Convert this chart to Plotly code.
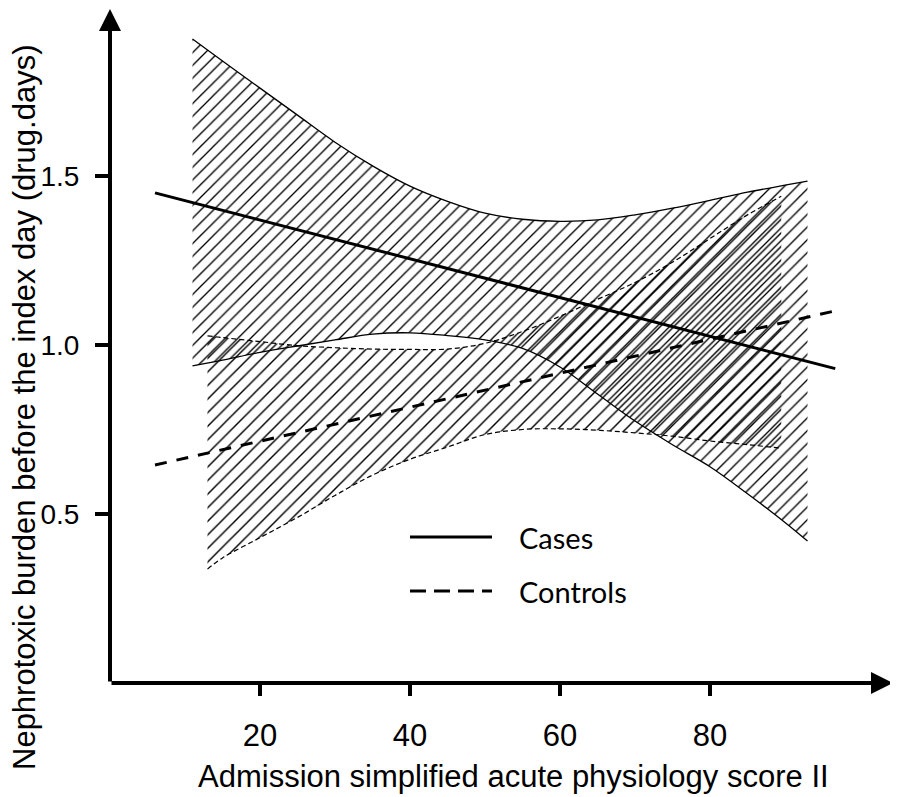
import plotly.graph_objects as go

# ---- data ----
cases_line_x = [6, 96.7]
cases_line_y = [1.45, 0.93]

controls_line_x = [6, 96.5]
controls_line_y = [0.645, 1.10]

cases_band_x = [11, 15, 20, 25, 30, 35, 40, 45, 50, 55, 60, 65, 70, 75, 80, 85, 90, 93]
cases_upper = [1.905, 1.84, 1.76, 1.68, 1.60, 1.53, 1.47, 1.425, 1.39, 1.372, 1.366,
               1.37, 1.385, 1.405, 1.428, 1.452, 1.473, 1.485]
cases_lower = [0.938, 0.955, 0.978, 0.997, 1.015, 1.032, 1.036, 1.028, 1.015, 0.99,
               0.935, 0.855, 0.775, 0.705, 0.64, 0.56, 0.475, 0.42]

controls_band_x = [13, 15, 20, 25, 30, 35, 40, 45, 50, 55, 60, 65, 70, 75, 80, 85, 89.5]
controls_upper = [1.027, 1.022, 1.010, 0.998, 0.992, 0.988, 0.987, 0.988, 1.005, 1.04,
                  1.085, 1.135, 1.185, 1.245, 1.315, 1.385, 1.44]
controls_lower = [0.337, 0.37, 0.43, 0.49, 0.555, 0.615, 0.662, 0.698, 0.735, 0.75,
                  0.752, 0.748, 0.740, 0.73, 0.716, 0.705, 0.695]

x_ticks = [20, 40, 60, 80]
y_ticks = [0.5, 1.0, 1.5]
y_tick_text = ["0.5", "1.0", "1.5"]

series_names = ["Cases", "Controls"]
x_title = "Admission simplified acute physiology score II"
y_title = "Nephrotoxic burden before the index day (drug.days)"

X_MAX = 104.4
Y_MAX = 1.997

fig = go.Figure()

# Cases confidence band (solid thin edges, hatched)
fig.add_trace(go.Scatter(x=cases_band_x, y=cases_upper, mode="lines",
                         line=dict(color="black", width=1.3, shape="spline"),
                         showlegend=False, hoverinfo="skip"))
fig.add_trace(go.Scatter(x=cases_band_x, y=cases_lower, mode="lines",
                         line=dict(color="black", width=1.3, shape="spline"),
                         showlegend=False,
                         fill="tonexty", fillcolor="rgba(0,0,0,0)",
                         fillpattern=dict(shape="/", fgcolor="black",
                                          bgcolor="rgba(0,0,0,0)", size=9,
                                          solidity=0.15, fillmode="replace"),
                         hoverinfo="skip"))

# Controls confidence band (dashed thin edges, hatched)
fig.add_trace(go.Scatter(x=controls_band_x, y=controls_upper, mode="lines",
                         line=dict(color="black", width=1.2, dash="5px,3px", shape="spline"),
                         showlegend=False, hoverinfo="skip"))
fig.add_trace(go.Scatter(x=controls_band_x, y=controls_lower, mode="lines",
                         line=dict(color="black", width=1.2, dash="5px,3px", shape="spline"),
                         showlegend=False,
                         fill="tonexty", fillcolor="rgba(0,0,0,0)",
                         fillpattern=dict(shape="/", fgcolor="black",
                                          bgcolor="rgba(0,0,0,0)", size=9.6,
                                          solidity=0.15, fillmode="replace"),
                         hoverinfo="skip"))

# Main lines
fig.add_trace(go.Scatter(x=cases_line_x, y=cases_line_y, mode="lines",
                         name=series_names[0],
                         line=dict(color="black", width=3), showlegend=False))
fig.add_trace(go.Scatter(x=controls_line_x, y=controls_line_y, mode="lines",
                         name=series_names[1],
                         line=dict(color="black", width=3, dash="12px,10px"),
                         showlegend=False))

# page body has an 8px margin: figure is offset by (8, 8)
OFF = 8
W, H = 890, 789
L, R, T, B = 102, 5, 0, 114
pw, ph = W - L - R, H - T - B


def px_x(p):
    """reference pixel x -> paper x"""
    return (p - OFF - L) / pw


def px_y(p):
    """reference pixel y -> paper y"""
    return (H - B - (p - OFF)) / ph


shapes = [
    dict(type="line", xref="paper", yref="paper", x0=px_x(410), x1=px_x(492),
         y0=px_y(537), y1=px_y(537), line=dict(color="black", width=3)),
    dict(type="line", xref="paper", yref="paper", x0=px_x(410), x1=px_x(492),
         y0=px_y(591), y1=px_y(591), line=dict(color="black", width=3, dash="16px,8px")),
]

annotations = [
    # axes with arrows
    dict(x=px_x(893), y=0, ax=-(893 - 110), ay=0, xref="paper", yref="paper",
         showarrow=True, arrowhead=2, arrowsize=1.1, arrowwidth=4, arrowcolor="black", text=""),
    dict(x=0, y=px_y(4), ax=0, ay=(683 - 4), xref="paper", yref="paper",
         showarrow=True, arrowhead=2, arrowsize=1.1, arrowwidth=4, arrowcolor="black", text=""),
    # legend texts
    dict(x=px_x(517), y=px_y(537), xref="paper", yref="paper", text=series_names[0],
         showarrow=False, xanchor="left", yanchor="middle",
         font=dict(family="Lato, Carlito, sans-serif", size=29, color="black")),
    dict(x=px_x(517), y=px_y(591), xref="paper", yref="paper", text=series_names[1],
         showarrow=False, xanchor="left", yanchor="middle",
         font=dict(family="Lato, Carlito, sans-serif", size=29, color="black")),
    # y title
    dict(x=px_x(24), y=px_y(407), xref="paper", yref="paper", text=y_title,
         showarrow=False, textangle=-90, xanchor="center", yanchor="middle",
         font=dict(family="Liberation Sans, Arial, sans-serif", size=31, color="black")),
    # x title
    dict(x=px_x(513), y=px_y(776), xref="paper", yref="paper", text=x_title,
         showarrow=False, xanchor="center", yanchor="middle",
         font=dict(family="Liberation Sans, Arial, sans-serif", size=31, color="black")),
]

fig.update_layout(
    width=W, height=H,
    margin=dict(l=L, r=R, t=T, b=B, pad=0),
    paper_bgcolor="white", plot_bgcolor="white",
    showlegend=False,
    shapes=shapes,
    annotations=annotations,
    xaxis=dict(range=[0, X_MAX], showgrid=False, zeroline=False, showline=False,
               tickmode="array", tickvals=x_ticks, ticks="outside", ticklen=12,
               tickwidth=4, tickcolor="black", ticklabelstandoff=13,
               tickfont=dict(family="Liberation Sans, Arial, sans-serif", size=31, color="black")),
    yaxis=dict(range=[0, Y_MAX], showgrid=False, zeroline=False, showline=False,
               tickmode="array", tickvals=y_ticks, ticktext=y_tick_text,
               ticks="outside", ticklen=14, tickwidth=4, tickcolor="black",
               ticklabelstandoff=10,
               tickfont=dict(family="Liberation Sans, Arial, sans-serif", size=28, color="black")),
)

fig.write_html("out.html")
